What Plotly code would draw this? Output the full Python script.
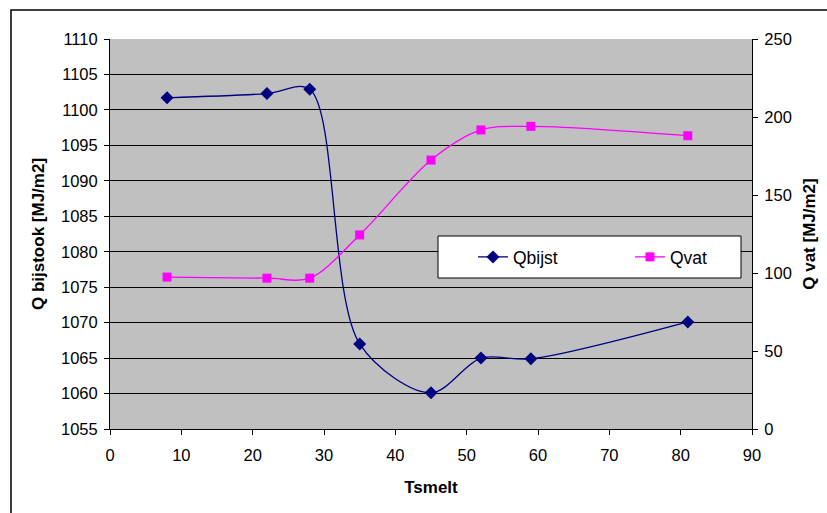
import plotly.graph_objects as go

tsmelt = [8, 22, 28, 35, 45, 52, 59, 81]
qbijst = [1101.7, 1102.3, 1102.9, 1067.0, 1060.1, 1065.0, 1064.9, 1070.1]
qvat = [97.4, 96.7, 96.7, 124.4, 172.4, 191.7, 194.0, 188.0]

W, H = 827, 513
L, R, T, B = 110, 75, 39, 84
pw, ph = W - L - R, H - T - B

def px(x):
    return (x - L) / pw

def py(y):
    return (H - B - y) / ph

fig = go.Figure()
fig.add_trace(go.Scatter(
    x=tsmelt, y=qbijst, name="Qbijst", mode="lines+markers",
    line=dict(color="#000080", width=1.3, shape="spline", smoothing=0.9),
    marker=dict(symbol="diamond", size=10, color="#000080"),
    yaxis="y"))
fig.add_trace(go.Scatter(
    x=tsmelt, y=qvat, name="Qvat", mode="lines+markers",
    line=dict(color="#FF00FF", width=1.3, shape="spline", smoothing=0.9),
    marker=dict(symbol="square", size=9, color="#FF00FF"),
    yaxis="y2"))

fam = "Liberation Sans, Arial"
font = dict(family=fam, size=16.5, color="black")
title_font = dict(family=fam, size=17, color="black")

fig.update_layout(
    width=W, height=H,
    margin=dict(l=L, r=R, t=T, b=B, autoexpand=False),
    paper_bgcolor="white",
    plot_bgcolor="#C0C0C0",
    font=font,
    showlegend=True,
    legend=dict(orientation="h", x=px(473), y=py(257), xanchor="left", yanchor="middle",
                bgcolor="rgba(0,0,0,0)", borderwidth=0,
                entrywidth=112, entrywidthmode="pixels",
                font=dict(family=fam, size=17.5, color="black")),
    xaxis=dict(range=[0, 90], dtick=10, tick0=0, showgrid=False, zeroline=False,
               showline=True, linecolor="black", linewidth=1, automargin=False,
               ticks="outside", ticklen=5, tickcolor="black", ticklabelstandoff=6,
               title=dict(text="<b>Tsmelt</b>", font=title_font, standoff=18)),
    yaxis=dict(range=[1055, 1110], dtick=5, tick0=1055, showgrid=True, gridcolor="black",
               gridwidth=1, zeroline=False, showline=True, linecolor="black", linewidth=1,
               automargin=False,
               ticks="outside", ticklen=5, tickcolor="black", ticklabelstandoff=3,
               title=dict(text="<b>Q bijstook [MJ/m2]</b>", font=title_font, standoff=12)),
    yaxis2=dict(range=[0, 250], dtick=50, tick0=0, overlaying="y", side="right",
                showgrid=False, zeroline=False, showline=True, linecolor="black", linewidth=1,
                automargin=False,
                ticks="outside", ticklen=5, tickcolor="black", ticklabelstandoff=3,
                title=dict(text="<b>Q vat [MJ/m2]</b>", font=title_font, standoff=12)),
    shapes=[
        dict(type="rect", xref="paper", yref="paper",
             x0=px(438), x1=px(741), y0=py(278), y1=py(236),
             fillcolor="white", line=dict(color="black", width=1), layer="above"),
        dict(type="rect", xref="paper", yref="paper",
             x0=px(11), x1=px(900), y0=py(600), y1=py(10),
             fillcolor="rgba(0,0,0,0)", line=dict(color="black", width=1.5), layer="above"),
    ],
)

fig.write_html("out.html")
